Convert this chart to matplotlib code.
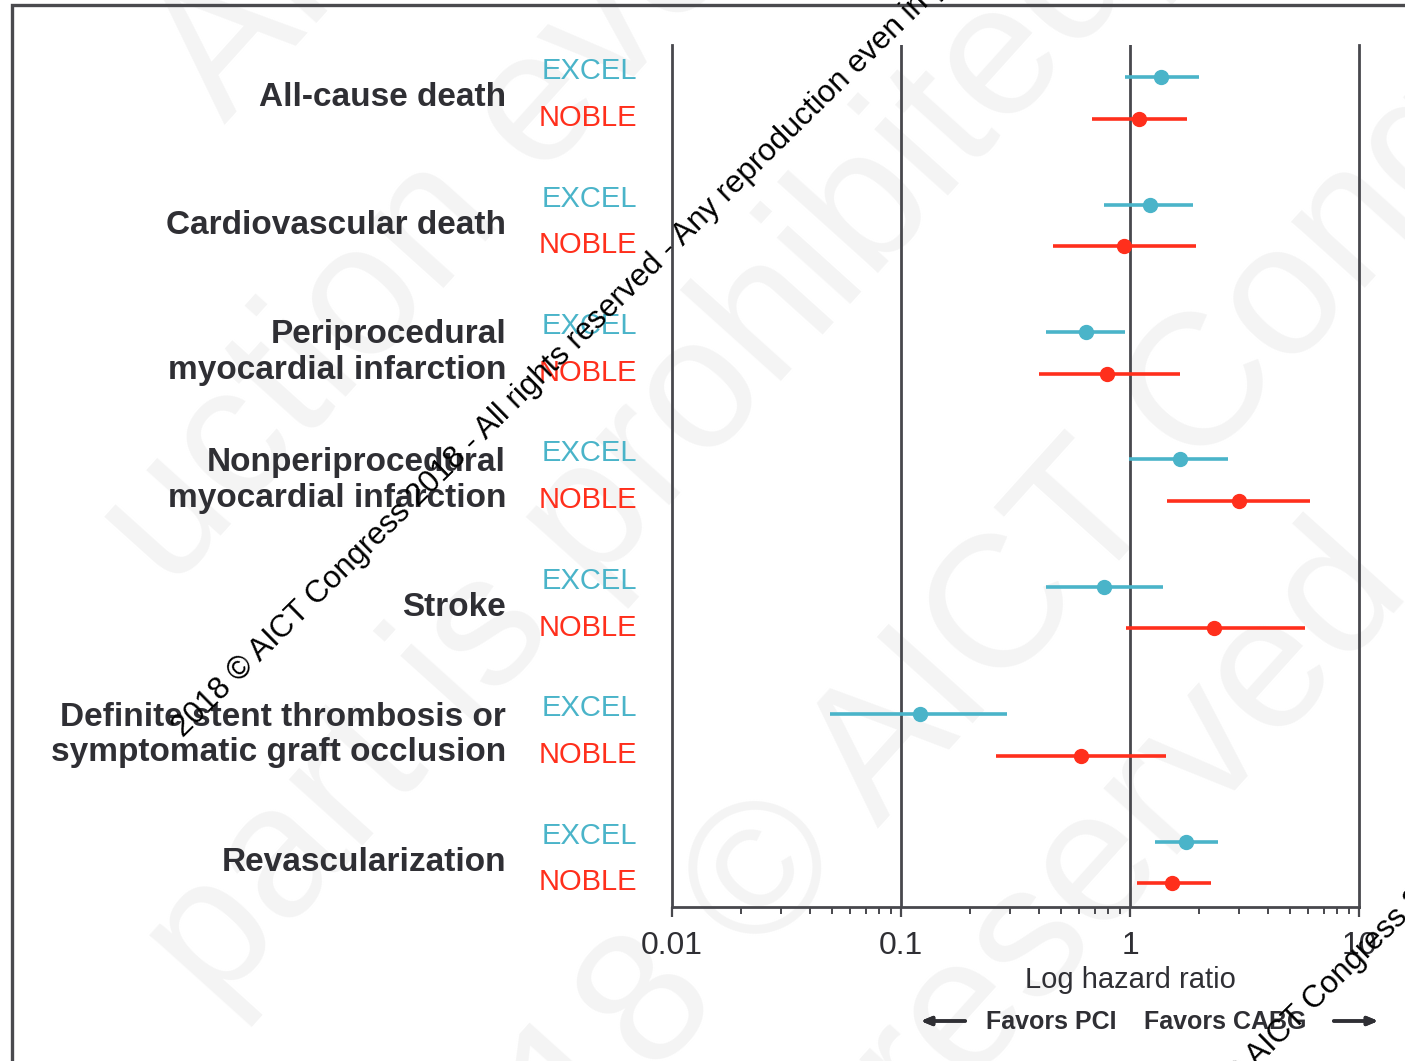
import numpy as np
import matplotlib.pyplot as plt
from matplotlib.patches import Rectangle
from matplotlib.transforms import blended_transform_factory

plt.rcParams["font.family"] = ["Liberation Sans", "DejaVu Sans"]

categories = [
    "All-cause death",
    "Cardiovascular death",
    "Periprocedural\nmyocardial infarction",
    "Nonperiprocedural\nmyocardial infarction",
    "Stroke",
    "Definite stent thrombosis or\nsymptomatic graft occlusion",
    "Revascularization",
]

excel_hr = [1.37, 1.22, 0.64, 1.65, 0.77, 0.121, 1.76]
excel_lo = [0.95, 0.77, 0.43, 0.99, 0.43, 0.049, 1.29]
excel_hi = [2.00, 1.88, 0.95, 2.68, 1.39, 0.29, 2.42]

noble_hr = [1.09, 0.94, 0.79, 2.99, 2.33, 0.61, 1.53]
noble_lo = [0.68, 0.46, 0.40, 1.45, 0.96, 0.26, 1.07]
noble_hi = [1.77, 1.94, 1.65, 6.11, 5.81, 1.44, 2.26]

tick_vals = [0.01, 0.1, 1, 10]
tick_labels = ["0.01", "0.1", "1", "10"]

EXCEL_C = "#4ab4c9"
NOBLE_C = "#ff2f1c"
DARK = "#2f2f34"
LINE = "#48484d"

W, H = 1405, 1061
fig = plt.figure(figsize=(W / 100, H / 100), dpi=100)
ax = fig.add_axes([672 / W, 1 - 907 / H, (1359 - 672) / W, (907 - 45) / H])
ax.patch.set_alpha(0)

# faint background watermark
wm_color = "#f4f4f4"
wm_rot = 48
wm_lines = [
    ("All rights reserved", 225, 125),
    ("uction even in", 171, 592),
    ("part is prohibited]", 215, 1010),
    ("2018 \u00a9 AICT Congress", 444, 1311),
    ("reserved - Any", 925, 1135),
]
for txt, px, py in wm_lines:
    fig.text(px / W, 1 - py / H, txt, fontsize=135, color=wm_color,
             rotation=wm_rot, rotation_mode="anchor", ha="left", va="baseline",
             zorder=-5)

y = np.arange(len(categories))
off = 0.163

ax.set_xscale("log")
ax.set_xlim(0.01, 10)
ax.set_ylim(6.35, -0.416)

for v in [0.1, 1]:
    ax.axvline(v, color=LINE, lw=2, zorder=1)

ax.hlines(y - off, excel_lo, excel_hi, color=EXCEL_C, lw=2.6, zorder=3)
ax.plot(excel_hr, y - off, "o", color=EXCEL_C, ms=10, zorder=4)
ax.hlines(y + off, noble_lo, noble_hi, color=NOBLE_C, lw=2.6, zorder=3)
ax.plot(noble_hr, y + off, "o", color=NOBLE_C, ms=10, zorder=4)

for s in ["left", "right", "bottom"]:
    ax.spines[s].set_color(LINE)
    ax.spines[s].set_linewidth(2)
ax.spines["top"].set_visible(False)

ax.set_yticks([])
ax.set_xticks(tick_vals)
ax.set_xticklabels(tick_labels)
ax.tick_params(axis="x", which="major", length=7, width=1.6, color=LINE,
               labelsize=23, labelcolor=DARK, pad=10)
ax.tick_params(axis="x", which="minor", length=5, width=1.4, color=LINE)

trans = blended_transform_factory(ax.transAxes, ax.transData)
for i, cat in enumerate(categories):
    ax.text(-0.2416, y[i], cat, transform=trans, ha="right", va="center",
            fontsize=24, fontweight="bold", color=DARK, linespacing=1.2)
    ax.text(-0.051, y[i] - 0.21, "EXCEL", transform=trans, ha="right",
            va="center", fontsize=21, color=EXCEL_C)
    ax.text(-0.051, y[i] + 0.157, "NOBLE", transform=trans, ha="right",
            va="center", fontsize=21, color=NOBLE_C)

xtrans = blended_transform_factory(ax.transData, ax.transAxes)
ax.text(1, -0.0847, "Log hazard ratio", transform=xtrans, ha="center",
        va="center", fontsize=21, color=DARK)
ax.text(0.87, -0.133, "Favors PCI", transform=xtrans, ha="right",
        va="center", fontsize=18, fontweight="bold", color=DARK)
ax.text(1.15, -0.133, "Favors CABG", transform=xtrans, ha="left",
        va="center", fontsize=18, fontweight="bold", color=DARK)

arrow = dict(arrowstyle="-|>,head_length=0.6,head_width=0.25", color=DARK, lw=2.5)
fig.add_artist(plt.annotate("", xy=(918 / W, 1 - 1021 / H), xytext=(968 / W, 1 - 1021 / H),
                            xycoords="figure fraction", textcoords="figure fraction",
                            arrowprops=arrow))
fig.add_artist(plt.annotate("", xy=(1381 / W, 1 - 1021 / H), xytext=(1331 / W, 1 - 1021 / H),
                            xycoords="figure fraction", textcoords="figure fraction",
                            arrowprops=arrow))

# outer frame
fig.add_artist(Rectangle((12 / W, -0.1), 1.2, 1 - 5 / H + 0.1, transform=fig.transFigure,
                         fill=False, edgecolor="#4a4a4e", lw=2.4, zorder=10))

# diagonal copyright text
notice = "2018 \u00a9 AICT Congress 2018 - All rights reserved - Any reproduction even in part is prohibited"
for px, py in [(183, 738), (1180, 1143)]:
    fig.text(px / W, 1 - py / H, notice, fontsize=22.5, color="black", rotation=44.5,
             rotation_mode="anchor", ha="left", va="baseline", zorder=20)

fig.savefig("out.png", dpi=100)
